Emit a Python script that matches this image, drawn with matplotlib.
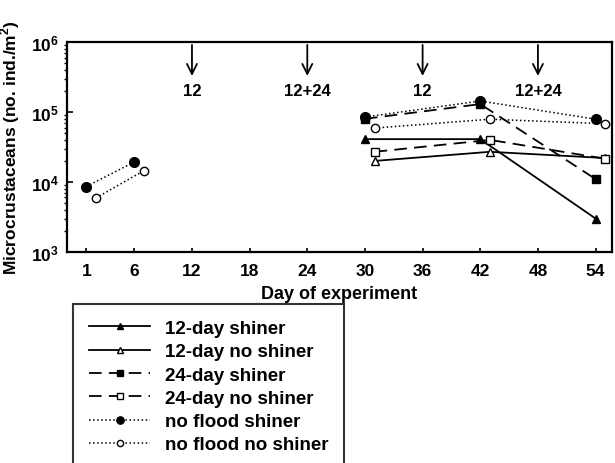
import matplotlib
matplotlib.use("Agg")
import matplotlib.pyplot as plt
from matplotlib.ticker import FixedLocator, FixedFormatter, LogLocator, NullFormatter

plt.rcParams['font.family'] = ['Liberation Sans', 'DejaVu Sans']
plt.rcParams['font.weight'] = 'bold'
plt.rcParams['mathtext.fontset'] = 'custom'
plt.rcParams['mathtext.rm'] = 'Liberation Sans:bold'
plt.rcParams['mathtext.bf'] = 'Liberation Sans:bold'

# days (open-marker series are offset by one day in the original)
days_shiner = [30, 42, 54]
days_no_shiner = [31, 43, 55]
days_early = [1, 6]
days_early_no = [2, 7]

twelve_shiner = [41000, 41000, 3000]
twelve_no_shiner = [20000, 27000, 22000]
tf_shiner = [80000, 130000, 11000]
tf_no_shiner = [27000, 40000, 21500]
nf_shiner_early = [8600, 19300]
nf_no_shiner_early = [5900, 14500]
nf_shiner = [85000, 144000, 79000]
nf_no_shiner = [59000, 79000, 68000]

flood_days = [12, 24, 36, 48]
flood_labels = ["12", "12+24", "12", "12+24"]

x_ticks = [1, 6, 12, 18, 24, 30, 36, 42, 48, 54]

fig = plt.figure(figsize=(6.15, 4.64), dpi=100)
ax = fig.add_axes([0.109, 0.455, 0.886, 0.452])

ms = 6
ax.plot(days_shiner, twelve_shiner, '-', color='black', lw=1.3, marker='^',
        ms=ms, mfc='black', label='12-day shiner')
ax.plot(days_no_shiner, twelve_no_shiner, '-', color='black', lw=1.3, marker='^',
        ms=ms, mfc='white', label='12-day no shiner')
ax.plot(days_shiner, tf_shiner, '--', color='black', lw=1.3, marker='s',
        ms=ms, mfc='black', dashes=(7, 4), label='24-day shiner')
ax.plot(days_no_shiner, tf_no_shiner, '--', color='black', lw=1.3, marker='s',
        ms=ms, mfc='white', dashes=(7, 4), label='24-day no shiner')
ax.plot(days_shiner, nf_shiner, ':', color='black', lw=1.1, marker='o',
        ms=ms + 1, mfc='black', label='no flood shiner')
ax.plot(days_no_shiner, nf_no_shiner, ':', color='black', lw=1.1, marker='o',
        ms=ms, mfc='white', label='no flood no shiner')
ax.plot(days_early, nf_shiner_early, ':', color='black', lw=1.1, marker='o',
        ms=ms + 1, mfc='black')
ax.plot(days_early_no, nf_no_shiner_early, ':', color='black', lw=1.1, marker='o',
        ms=ms, mfc='white')

ax.set_yscale('log')
ax.set_ylim(1e3, 1e6)
ax.set_xlim(-1, 55.7)

ax.yaxis.set_major_locator(FixedLocator([1e3, 1e4, 1e5, 1e6]))
ax.yaxis.set_major_formatter(FixedFormatter([r'$\mathbf{10^{3}}$', r'$\mathbf{10^{4}}$',
                                             r'$\mathbf{10^{5}}$', r'$\mathbf{10^{6}}$']))
ax.yaxis.set_minor_locator(LogLocator(base=10, subs=range(2, 10)))
ax.yaxis.set_minor_formatter(NullFormatter())
ax.set_xticks(x_ticks)
ax.tick_params(axis='both', direction='in', labelsize=12.5, width=1.2)
ax.tick_params(axis='y', which='major', length=4, pad=6)
ax.tick_params(axis='y', which='minor', length=2.5, width=1)
ax.tick_params(axis='x', length=3, pad=8)
for lab in ax.get_xticklabels():
    lab.set_fontweight('bold')

for s in ax.spines.values():
    s.set_linewidth(1.6)

ax.set_xlabel('Day of experiment', fontsize=13, fontweight='bold', labelpad=5)
ax.set_ylabel('Microcrustaceans (no. ind./m$^{2}$)', fontsize=12.5, fontweight='bold',
              labelpad=6)

# flood pulse arrows along the top
for d, lab in zip(flood_days, flood_labels):
    ax.annotate('', xy=(d, 3.0e5), xytext=(d, 1e6),
                arrowprops=dict(arrowstyle='->', color='black', lw=1.3,
                                mutation_scale=18))
    ax.text(d, 2.6e5, lab, ha='center', va='top', fontsize=12, fontweight='bold')

leg = fig.legend(loc='upper left', bbox_to_anchor=(0.119, 0.343), frameon=True,
                 handlelength=3.25, handletextpad=0.8, labelspacing=0.33,
                 borderpad=0.85, borderaxespad=0, fancybox=False, edgecolor='black',
                 markerscale=0.75, prop={'weight': 'bold', 'size': 13.5})
leg.get_frame().set_linewidth(1.5)

fig.savefig('out.png', dpi=100)
